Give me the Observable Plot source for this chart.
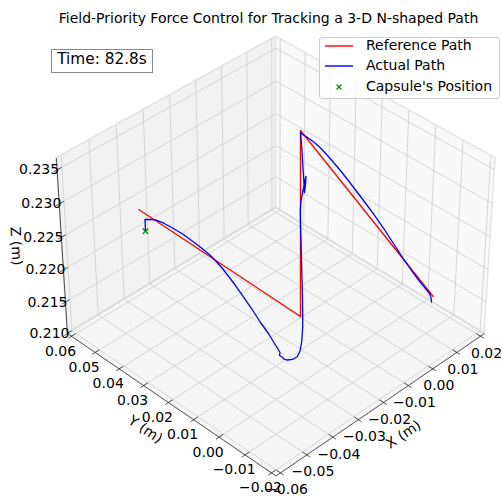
<!DOCTYPE html>
<html>
<head>
<meta charset="utf-8">
<script src="https://cdn.jsdelivr.net/npm/d3@7"></script>
<script src="https://cdn.jsdelivr.net/npm/@observablehq/plot@0.6"></script>
<style>
  html, body { margin: 0; padding: 0; background: #fff; }
  #fig { position: relative; width: 502px; height: 500px; overflow: hidden; font-family: "DejaVu Sans", sans-serif; color: #000; }
  #fig svg.plot { position: absolute; left: 0; top: 0; }
  .title { position: absolute; left: 0; width: 537px; top: 10px; text-align: center; font-size: 14px; line-height: 16px; white-space: nowrap; }
  .timebox { position: absolute; left: 51px; top: 49px; width: 102px; height: 24px; box-sizing: border-box; border: 1px solid #8a8a8a; background: #fff; font-size: 15.3px; line-height: 19.5px; text-align: center; white-space: nowrap; }
  .legend { position: absolute; left: 319px; top: 37px; width: 181px; height: 62px; box-sizing: border-box; border: 1px solid #cccccc; border-radius: 3px; background: rgba(255,255,255,0.8); }
  .lg-text { position: absolute; left: 366px; font-size: 14px; line-height: 16px; white-space: nowrap; }
  .lg-sym { position: absolute; left: 323px; }
</style>
</head>
<body>
<div id="fig"></div>
<script>
// ---------- axis ticks and limits ----------
const xTicks = [-0.06, -0.05, -0.04, -0.03, -0.02, -0.01, 0.00, 0.01, 0.02];
const yTicks = [-0.02, -0.01, 0.00, 0.01, 0.02, 0.03, 0.04, 0.05, 0.06];
const zTicks = [0.210, 0.215, 0.220, 0.225, 0.230, 0.235];
const xLim = [-0.0617, 0.0217];
const yLim = [-0.0217, 0.0617];
const zLim = [0.2100, 0.2367];

// ---------- reference path (m) ----------
const refX = [-0.04811, -0.01969, -0.00232, 0.01296];
const refY = [0.04454, 0.01067, 0.02816, -0.00948];
const refZ = [0.230, 0.215, 0.235, 0.215];

// ---------- actual path (m) ----------
const actX = [-0.04864, -0.04877, -0.04671, -0.04504, -0.04288, -0.04086, -0.03917, -0.03781, -0.03634, -0.03516,
  -0.03445, -0.03466, -0.03474, -0.03540, -0.03585, -0.03660, -0.03690, -0.03768, -0.03749, -0.03699,
  -0.03664, -0.03526, -0.03394, -0.03203, -0.02931, -0.02638, -0.02314, -0.02187, -0.02029, -0.01892,
  -0.01737, -0.01598, -0.01407, -0.01238, -0.01104, -0.00965, -0.00864, -0.00716, -0.00591, -0.00550,
  -0.00625, -0.00709, -0.00654, -0.00588, -0.00494, -0.00393, -0.00302, -0.00253, -0.00228, -0.00147,
  -0.00042, 0.00067, 0.00141, 0.00237, 0.00331, 0.00392, 0.00476, 0.00558, 0.00640, 0.00712,
  0.00783, 0.00865, 0.00925, 0.00985, 0.01054, 0.01132, 0.01191, 0.01235, 0.01241, 0.01231];
const actY = [0.04154, 0.04142, 0.04149, 0.04133, 0.04041, 0.03865, 0.03715, 0.03534, 0.03296, 0.03028,
  0.02711, 0.02415, 0.02096, 0.01705, 0.01334, 0.00937, 0.00587, 0.00290, 0.00175, 0.00147,
  0.00201, 0.00242, 0.00296, 0.00350, 0.00425, 0.00538, 0.00740, 0.00800, 0.00920, 0.01058,
  0.01221, 0.01381, 0.01593, 0.01783, 0.01938, 0.02085, 0.02159, 0.02229, 0.02278, 0.02280,
  0.02224, 0.02178, 0.02254, 0.02339, 0.02461, 0.02595, 0.02718, 0.02795, 0.02761, 0.02627,
  0.02460, 0.02312, 0.02132, 0.01952, 0.01750, 0.01535, 0.01341, 0.01125, 0.00908, 0.00699,
  0.00489, 0.00308, 0.00105, -0.00098, -0.00313, -0.00538, -0.00740, -0.00859, -0.00916, -0.00950];
const actZ = [0.2276, 0.2294, 0.2289, 0.2285, 0.2277, 0.2268, 0.2260, 0.2252, 0.2243, 0.2234,
  0.2224, 0.2218, 0.2210, 0.2203, 0.2195, 0.2187, 0.2179, 0.2174, 0.2168, 0.2162,
  0.2155, 0.2148, 0.2140, 0.2132, 0.2124, 0.2117, 0.2112, 0.2123, 0.2138, 0.2153,
  0.2170, 0.2189, 0.2210, 0.2232, 0.2248, 0.2264, 0.2275, 0.2285, 0.2296, 0.2301,
  0.2292, 0.2283, 0.2292, 0.2302, 0.2312, 0.2329, 0.2339, 0.2348, 0.2346, 0.2342,
  0.2336, 0.2328, 0.2320, 0.2310, 0.2299, 0.2289, 0.2278, 0.2266, 0.2254, 0.2242,
  0.2230, 0.2217, 0.2205, 0.2193, 0.2181, 0.2169, 0.2160, 0.2154, 0.2149, 0.2143];

// ---------- capsule position (m) ----------
const capX = [-0.04864];
const capY = [0.04154];
const capZ = [0.2276];

// ---------- perspective view (matplotlib-like) ----------
const ELEV = 38, AZIM = -135, DIST = 10, HALF = [4/7, 4/7, 0.42];
const K = 2647.2, X0 = 275.5, Y0 = 247.6;
const er = ELEV * Math.PI / 180, ar = AZIM * Math.PI / 180;
const W = [Math.cos(er) * Math.cos(ar), Math.cos(er) * Math.sin(ar), Math.sin(er)];
let U = [-W[1], W[0], 0];
const un = Math.hypot(U[0], U[1]);
U = U.map(t => t / un);
const V = [W[1]*U[2] - W[2]*U[1], W[2]*U[0] - W[0]*U[2], W[0]*U[1] - W[1]*U[0]];
const toQ = (v, lim, h) => ((v - lim[0]) / (lim[1] - lim[0]) * 2 - 1) * h;
const dot = (a, b) => a[0]*b[0] + a[1]*b[1] + a[2]*b[2];
function P(x, y, z) {
  const q = [toQ(x, xLim, HALF[0]), toQ(y, yLim, HALF[1]), toQ(z, zLim, HALF[2])];
  const d = DIST - dot(W, q);
  return {px: dot(U, q) / d, py: dot(V, q) / d};
}
const seg = (a, b) => { const p = P(...a), q = P(...b); return {x1: p.px, y1: p.py, x2: q.px, y2: q.py}; };
const [xl, xh] = xLim, [yl, yh] = yLim, [zl, zh] = zLim;

function pane(c) {
  const p = c.map(t => P(...t));
  return [{x1: p[0].px, y1: p[0].py, x2: p[3].px, y2: p[3].py}, {x1: p[1].px, y1: p[1].py, x2: p[2].px, y2: p[2].py}];
}
const floorPane = pane([[xl,yl,zl],[xh,yl,zl],[xh,yh,zl],[xl,yh,zl]]);
const leftPane  = pane([[xl,yh,zl],[xh,yh,zl],[xh,yh,zh],[xl,yh,zh]]);
const rightPane = pane([[xh,yl,zl],[xh,yh,zl],[xh,yh,zh],[xh,yl,zh]]);

const grid = [];
xTicks.forEach(x => { grid.push(seg([x,yl,zl],[x,yh,zl])); grid.push(seg([x,yh,zl],[x,yh,zh])); });
yTicks.forEach(y => { grid.push(seg([xl,y,zl],[xh,y,zl])); grid.push(seg([xh,y,zl],[xh,y,zh])); });
zTicks.forEach(z => { grid.push(seg([xl,yh,z],[xh,yh,z])); grid.push(seg([xh,yl,z],[xh,yh,z])); });

const axes = [seg([xl,yl,zl],[xh,yl,zl]), seg([xl,yl,zl],[xl,yh,zl]), seg([xl,yh,zl],[xl,yh,zh])];
const ticks = [];
xTicks.forEach(x => ticks.push(seg([x, yl - 0.0012, zl], [x, yl + 0.0016, zl])));
yTicks.forEach(y => ticks.push(seg([xl - 0.0012, y, zl], [xl + 0.0016, y, zl])));
zTicks.forEach(z => ticks.push(seg([xl - 0.0012, yh, z], [xl + 0.0016, yh, z])));

const f2 = d3.format(".2f"), f3 = d3.format(".3f");
const xLab = xTicks.map(x => ({...P(x, yl, zl), t: f2(x)}));
const yLab = yTicks.map(y => ({...P(xl, y, zl), t: f2(y)}));
const zLab = zTicks.map(z => ({...P(xl, yh, z), t: f3(z)}));

const refPts = refX.map((x, i) => P(x, refY[i], refZ[i]));
const actPts = actX.map((x, i) => P(x, actY[i], actZ[i]));
const capPts = capX.map((x, i) => P(x, capY[i], capZ[i]));

const xMid = [P((xl+xh)/2, yl, zl)], yMid = [P(xl, (yl+yh)/2, zl)], zMid = [P(xl, yh, (zl+zh)/2)];

const chart = Plot.plot({
  width: 502, height: 500, margin: 0,
  x: {axis: null, domain: [-X0 / K, (502 - X0) / K], range: [0, 502]},
  y: {axis: null, domain: [(Y0 - 500) / K, Y0 / K], range: [500, 0]},
  style: {fontFamily: "DejaVu Sans, sans-serif", fontSize: "14px", background: "transparent", overflow: "visible"},
  marks: [
    Plot.area(floorPane, {x1: "x1", y1: "y1", x2: "x2", y2: "y2", fill: "#f5f5f5", stroke: "#ebebeb", strokeWidth: 1, curve: "linear"}),
    Plot.area(leftPane, {x1: "x1", y1: "y1", x2: "x2", y2: "y2", fill: "#f2f2f2", stroke: "#e2e2e2", strokeWidth: 1.5, curve: "linear"}),
    Plot.area(rightPane, {x1: "x1", y1: "y1", x2: "x2", y2: "y2", fill: "#f8f8f8", stroke: "#e6e6e6", strokeWidth: 1.5, curve: "linear"}),
    Plot.link(grid, {x1: "x1", y1: "y1", x2: "x2", y2: "y2", stroke: "#d2d2d2", strokeWidth: 0.9}),
    Plot.link(axes, {x1: "x1", y1: "y1", x2: "x2", y2: "y2", stroke: "#2a2a2a", strokeWidth: 0.8}),
    Plot.link(ticks, {x1: "x1", y1: "y1", x2: "x2", y2: "y2", stroke: "#2a2a2a", strokeWidth: 0.8}),
    Plot.text(xLab, {x: "px", y: "py", text: "t", dx: 6, dy: 17, fontSize: 14, fill: "#000"}),
    Plot.text(yLab, {x: "px", y: "py", text: "t", dx: -11, dy: 15, fontSize: 14, fill: "#000"}),
    Plot.text(zLab, {x: "px", y: "py", text: "t", dx: -18, dy: 0, fontSize: 14, fill: "#000"}),
    Plot.text(xMid, {x: "px", y: "py", text: () => "X (m)", dx: 20, dy: 32, rotate: -34, fontSize: 14, fill: "#000"}),
    Plot.text(yMid, {x: "px", y: "py", text: () => "Y (m)", dx: -23, dy: 27, rotate: 34, fontSize: 14, fill: "#000"}),
    Plot.text(zMid, {x: "px", y: "py", text: () => "Z (m)", dx: -46, dy: -2, rotate: 87, fontSize: 14, fill: "#000"}),
    Plot.line(refPts, {x: "px", y: "py", stroke: "#ff0000", strokeWidth: 1.3}),
    Plot.line(actPts, {x: "px", y: "py", stroke: "#0000ff", strokeWidth: 1.3}),
    Plot.dot(capPts, {x: "px", y: "py", symbol: "times", r: 2.6, stroke: "#008000", strokeWidth: 1.2})
  ]
});
chart.classList.add("plot");
const fig = document.getElementById("fig");
fig.appendChild(chart);
fig.insertAdjacentHTML("beforeend", `
  <div class="title">Field-Priority Force Control for Tracking a 3-D N-shaped Path</div>
  <div class="timebox">Time: 82.8s</div>
  <div class="legend"></div>
  <svg class="lg-sym" style="top:40px" width="32" height="12"><line x1="2" y1="6" x2="30" y2="6" stroke="#ff0000" stroke-width="1.4"/></svg>
  <svg class="lg-sym" style="top:60px" width="32" height="12"><line x1="2" y1="6" x2="30" y2="6" stroke="#0000ff" stroke-width="1.4"/></svg>
  <svg class="lg-sym" style="top:81px" width="32" height="12"><path d="M13.5,3.5L18.5,8.5M18.5,3.5L13.5,8.5" stroke="#008000" stroke-width="1.1"/></svg>
  <div class="lg-text" style="top:37px">Reference Path</div>
  <div class="lg-text" style="top:57px">Actual Path</div>
  <div class="lg-text" style="top:78px">Capsule's Position</div>
`);
</script>
</body>
</html>
